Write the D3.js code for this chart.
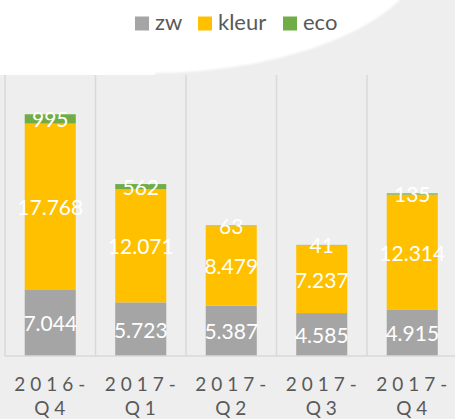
<!DOCTYPE html>
<html>
<head>
<meta charset="utf-8">
<script src="https://cdn.jsdelivr.net/npm/d3@7"></script>
<style>
  html, body { margin: 0; padding: 0; background: #eeeeee; }
  svg { display: block; }
</style>
</head>
<body>
<svg id="chart" width="455" height="419"></svg>
<script>
// ---- data ----
const categories = ["2016-Q4", "2017-Q1", "2017-Q2", "2017-Q3", "2017-Q4"];
const seriesNames = ["zw", "kleur", "eco"];
const zw = [7044, 5723, 5387, 4585, 4915];
const kleur = [17768, 12071, 8479, 7237, 12314];
const eco = [995, 562, 63, 41, 135];
const colors = ["#a5a5a5", "#ffc000", "#70ad47"];
const yDomain = [0, 30000];

// ---- setup ----
const W = 455, H = 419;
const svg = d3.select("#chart");
const font = "Lato, 'Open Sans', sans-serif";

// background: gray with white curved shape top-left
svg.append("rect").attr("width", W).attr("height", H).attr("fill", "#eeeeee");
const defs = svg.append("defs");
defs.append("filter").attr("id", "soft")
  .append("feGaussianBlur").attr("stdDeviation", 1.2);
const deco = svg.append("g").attr("filter", "url(#soft)");
deco.append("rect").attr("x", -10).attr("y", -10).attr("width", 165).attr("height", 95).attr("fill", "#ffffff");
deco.append("ellipse").attr("cx", 150).attr("cy", -60).attr("rx", 280).attr("ry", 133).attr("fill", "#ffffff");

// plot area
const plot = { left: 5, right: 457.5, top: 75, bottom: 356 };
svg.append("rect")
  .attr("x", 0).attr("y", plot.top)
  .attr("width", W).attr("height", H - plot.top)
  .attr("fill", "#eeeeee");

const x = d3.scaleBand()
  .domain(categories)
  .range([plot.left, plot.right])
  .paddingInner(0.436)
  .paddingOuter(0.218);
const y = d3.scaleLinear().domain(yDomain).range([plot.bottom, plot.top]);

// vertical gridlines at band boundaries
const step = x.step();
const boundaries = categories.map((c, i) => plot.left + i * step).concat([plot.right]);
svg.append("g").selectAll("line").data(boundaries).join("line")
  .attr("x1", d => d).attr("x2", d => d)
  .attr("y1", plot.top).attr("y2", plot.bottom)
  .attr("stroke", "#d9d9d9").attr("stroke-width", 1.5);

// stacked data
const table = categories.map((c, i) => ({ cat: c, zw: zw[i], kleur: kleur[i], eco: eco[i] }));
const stack = d3.stack().keys(seriesNames)(table);

const fmt = d3.formatLocale({ decimal: ",", thousands: ".", grouping: [3], currency: ["€", ""] }).format(",d");

const layers = svg.append("g").selectAll("g").data(stack).join("g")
  .attr("fill", (d, i) => colors[i]);
layers.selectAll("rect").data(d => d).join("rect")
  .attr("x", d => x(d.data.cat))
  .attr("width", x.bandwidth())
  .attr("y", d => y(d[1]))
  .attr("height", d => y(d[0]) - y(d[1]));

// baseline
svg.append("line")
  .attr("x1", plot.left).attr("x2", plot.right)
  .attr("y1", plot.bottom).attr("y2", plot.bottom)
  .attr("stroke", "#d9d9d9").attr("stroke-width", 1.5);

// data labels
const labels = svg.append("g");
stack.forEach((layer) => {
  labels.selectAll(null).data(layer).join("text")
    .attr("x", d => x(d.data.cat) + x.bandwidth() / 2)
    .attr("y", d => (y(d[0]) + y(d[1])) / 2)
    .attr("dy", "0.4em")
    .attr("text-anchor", "middle")
    .attr("fill", "#ffffff")
    .attr("font-family", font)
    .attr("font-size", 21)
    .text(d => fmt(d.data[layer.key]));
});

// x axis labels (two lines, letter-spaced)
const xAxis = svg.append("g");
categories.forEach(c => {
  const parts = c.match(/^(.*-)(.*)$/);
  const cx = x(c) + x.bandwidth() / 2 + 2;
  const t = xAxis.append("text")
    .attr("text-anchor", "middle")
    .attr("fill", "#595959")
    .attr("font-family", font)
    .attr("font-size", 19)
    .attr("letter-spacing", 5);
  t.append("tspan").attr("x", cx).attr("y", 391).text(parts[1]);
  t.append("tspan").attr("x", cx).attr("y", 415).text(parts[2]);
});

// legend
const legendX = [135, 198, 283];
const legend = svg.append("g");
seriesNames.forEach((name, i) => {
  legend.append("rect")
    .attr("x", legendX[i]).attr("y", 16.5)
    .attr("width", 14).attr("height", 14)
    .attr("fill", colors[i]);
  legend.append("text")
    .attr("x", legendX[i] + 20).attr("y", 30)
    .attr("fill", "#595959")
    .attr("font-family", font)
    .attr("font-size", 22)
    .text(name);
});
</script>
</body>
</html>
